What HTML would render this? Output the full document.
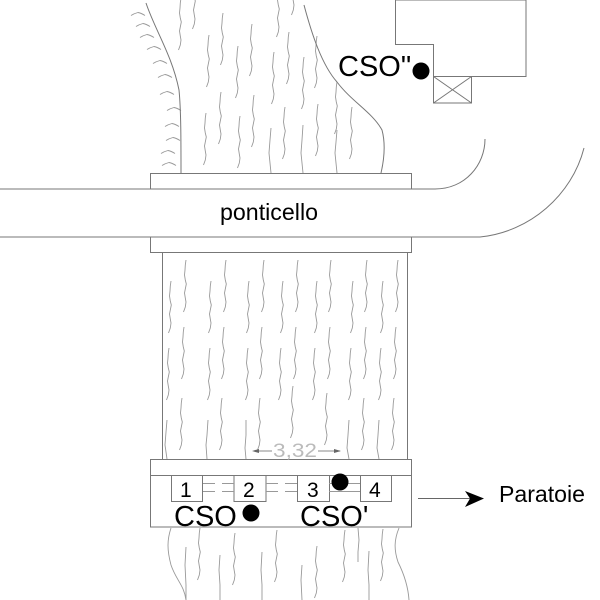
<!DOCTYPE html>
<html><head><meta charset="utf-8"><style>
html,body{margin:0;padding:0;background:#fff;width:600px;height:600px;overflow:hidden}
svg{display:block}
text{font-family:"Liberation Sans",sans-serif;fill:#000}
</style></head><body>
<svg width="600" height="600" viewBox="0 0 600 600" xmlns="http://www.w3.org/2000/svg">
<defs>
<path id="w" d="M0 0 L-.7 5 L-1 10 L-1.5 15 L-.7 20 L.3 24 L-.7 29 L-1.5 33 L-.7 38 L0 42 L-.7 47 L-2.5 52" fill="none"/>
<path id="t" d="M0 1.5 Q3 -.5 7 -1.5 Q10 -1 14 1.5" fill="none"/>
</defs>
<g stroke="#999" stroke-width=".9" fill="none">
<!-- upper wiggles -->
<use href="#w" x="181" y="-2"/><use href="#w" x="195" y="-23"/><use href="#w" x="209" y="35"/><use href="#w" x="223" y="13"/>
<use href="#w" x="238" y="46"/><use href="#w" x="252" y="24"/><use href="#w" x="274" y="52"/><use href="#w" x="279" y="-15"/>
<use href="#w" x="289" y="32"/><use href="#w" x="294" y="-37"/><use href="#w" x="304" y="57"/><use href="#w" x="317" y="36"/>
<use href="#w" x="221" y="92"/><use href="#w" x="206" y="113"/><use href="#w" x="240" y="116"/><use href="#w" x="254" y="95"/>
<use href="#w" x="285" y="107"/><use href="#w" x="318" y="104"/><use href="#w" x="337" y="82"/><use href="#w" x="352" y="107"/>
<path d="M271 128 L270 140 L269 153 L270 163 L271 173"/>
<path d="M303 125 L302 140 L301 153 L302 163 L303 173"/>
<path d="M337 130 L336 142 L335 153 L336 163 L337 173"/>
<!-- middle wiggles -->
<use href="#w" x="186" y="260"/><use href="#w" x="226" y="260"/><use href="#w" x="264" y="260"/><use href="#w" x="298" y="260"/><use href="#w" x="331" y="260"/><use href="#w" x="367" y="260"/><use href="#w" x="398" y="260"/>
<use href="#w" x="171" y="281"/><use href="#w" x="211" y="281"/><use href="#w" x="249" y="281"/><use href="#w" x="283" y="281"/><use href="#w" x="317" y="281"/><use href="#w" x="353" y="281"/><use href="#w" x="383" y="281"/>
<use href="#w" x="184" y="327"/><use href="#w" x="224" y="327"/><use href="#w" x="262" y="327"/><use href="#w" x="296" y="327"/><use href="#w" x="330" y="327"/><use href="#w" x="366" y="327"/><use href="#w" x="396" y="327"/>
<use href="#w" x="169" y="348"/><use href="#w" x="210" y="348"/><use href="#w" x="248" y="348"/><use href="#w" x="281" y="348"/><use href="#w" x="315" y="348"/><use href="#w" x="351" y="348"/><use href="#w" x="381" y="348"/>
<use href="#w" x="182" y="398"/><use href="#w" x="222" y="398"/><use href="#w" x="260" y="398"/><use href="#w" x="293" y="386"/><use href="#w" x="327" y="393"/><use href="#w" x="364" y="398"/><use href="#w" x="394" y="398"/>
<path d="M167 420 L166 432 L165 445 L167 459"/><path d="M208 420 L207 435 L206 445 L207 459"/><path d="M246 420 L246 435 L245 448 L246 459"/><path d="M349 420 L348 435 L347 448 L349 459"/><path d="M379 420 L378 435 L377 448 L379 459"/>
<!-- lower wiggles -->
<path d="M171 528 C167 540 167 550 171 565 C176 580 184 585 186 600"/>
<path d="M186 547 L185 565 L186 585 L186 600"/><use href="#w" x="200" y="528"/><path d="M220 555 L219 570 L220 585 L220 600"/>
<use href="#w" x="235" y="533"/><path d="M262 552 L261 570 L262 585 L262 600"/><use href="#w" x="277" y="530"/>
<path d="M302 565 L301 580 L302 600"/><use href="#w" x="317" y="546"/><use href="#w" x="345" y="530"/><path d="M358 528 L359 540 L358 552 L358 562"/>
<path d="M369 551 L368 570 L369 585 L369 600"/><use href="#w" x="383" y="529"/>
<path d="M399 528 C394 540 394 550 398 562 C403 572 408 585 409 600"/>
<!-- left bank ticks -->
<use href="#t" x="131" y="14"/><use href="#t" x="136" y="25"/><use href="#t" x="140" y="36"/><use href="#t" x="147" y="48"/>
<use href="#t" x="153" y="62"/><use href="#t" x="158" y="76"/><use href="#t" x="160" y="93"/><use href="#t" x="167" y="109"/>
<use href="#t" x="165" y="125"/><use href="#t" x="166" y="139"/><use href="#t" x="161" y="152"/><use href="#t" x="162" y="164"/>
</g>
<g stroke="#777" stroke-width="1" fill="none">
<path d="M146 3 C155 30 172 55 179 90 C181 110 181 140 181 173"/>
<path d="M304 5 C312 35 322 65 337 82 C352 102 372 112 382 130 C386 145 384 160 381 173"/>
<path d="M412 189 L435 189 C465 189 485 165 485 139"/>
<path d="M0 237 L480 237 C530 232 572 195 584 148"/>
<path d="M0 189 L412 189"/>
<path d="M150.500 189 V173.500 H411.500 V189"/>
<path d="M150.500 237 V252.500 H411.500 V237"/>
<path d="M162.500 253 V459 M407.500 253 V459"/>
<rect x="150.500" y="459.500" width="261" height="67.500"/>
<path d="M150 475.500 H412"/>
<rect x="171.500" y="475.500" width="31" height="26"/>
<rect x="234" y="475.500" width="32" height="26"/>
<rect x="297.500" y="475.500" width="32" height="26"/>
<rect x="360.500" y="475.500" width="31" height="26"/>
<path d="M203 483.500 H215 M222 483.500 H234 M266 483.500 H278 M285 483.500 H297 M329 483.500 H360 M203 491.500 H215 M222 491.500 H234 M266 491.500 H278 M285 491.500 H297 M329 491.500 H360" stroke="#999"/>
<path d="M395.500 0 H526 V76.500 H433.500 V44.500 H395.500 Z"/>
<rect x="433.500" y="76.500" width="38" height="26.500"/>
<path d="M433.500 76.500 L471.500 103 M471.500 76.500 L433.500 103"/>
</g>
<!-- dimension -->
<g stroke="#888" fill="#666" stroke-width="1">
<path d="M256 451 H272 M318 451 H340"/>
<path d="M252 451 L259 449 V453 Z M341 451 L334 449 V453 Z" stroke="none"/>
</g>
<text x="273" y="457" font-size="19" style="fill:#bbb" textLength="44" lengthAdjust="spacingAndGlyphs">3,32</text>
<!-- labels -->
<text x="220" y="220" font-size="23" textLength="98" lengthAdjust="spacingAndGlyphs">ponticello</text>
<text x="338" y="76" font-size="29">CSO"</text>
<circle cx="421" cy="71" r="8.500" fill="#000"/>
<text x="174" y="526" font-size="29">CSO</text>
<circle cx="251" cy="513" r="8.500" fill="#000"/>
<text x="300" y="526" font-size="29">CSO'</text>
<circle cx="340" cy="482" r="8.500" fill="#000"/>
<text x="180" y="497" font-size="21">1</text>
<text x="243" y="497" font-size="21">2</text>
<text x="307" y="497" font-size="21">3</text>
<text x="369" y="497" font-size="21">4</text>
<path d="M418 498.500 H472" stroke="#666" fill="none"/>
<path d="M484 498.500 L465 491 L470 498.500 L465 507 Z" fill="#000"/>
<text x="499" y="502" font-size="23" textLength="86" lengthAdjust="spacingAndGlyphs">Paratoie</text>
</svg>
</body></html>
